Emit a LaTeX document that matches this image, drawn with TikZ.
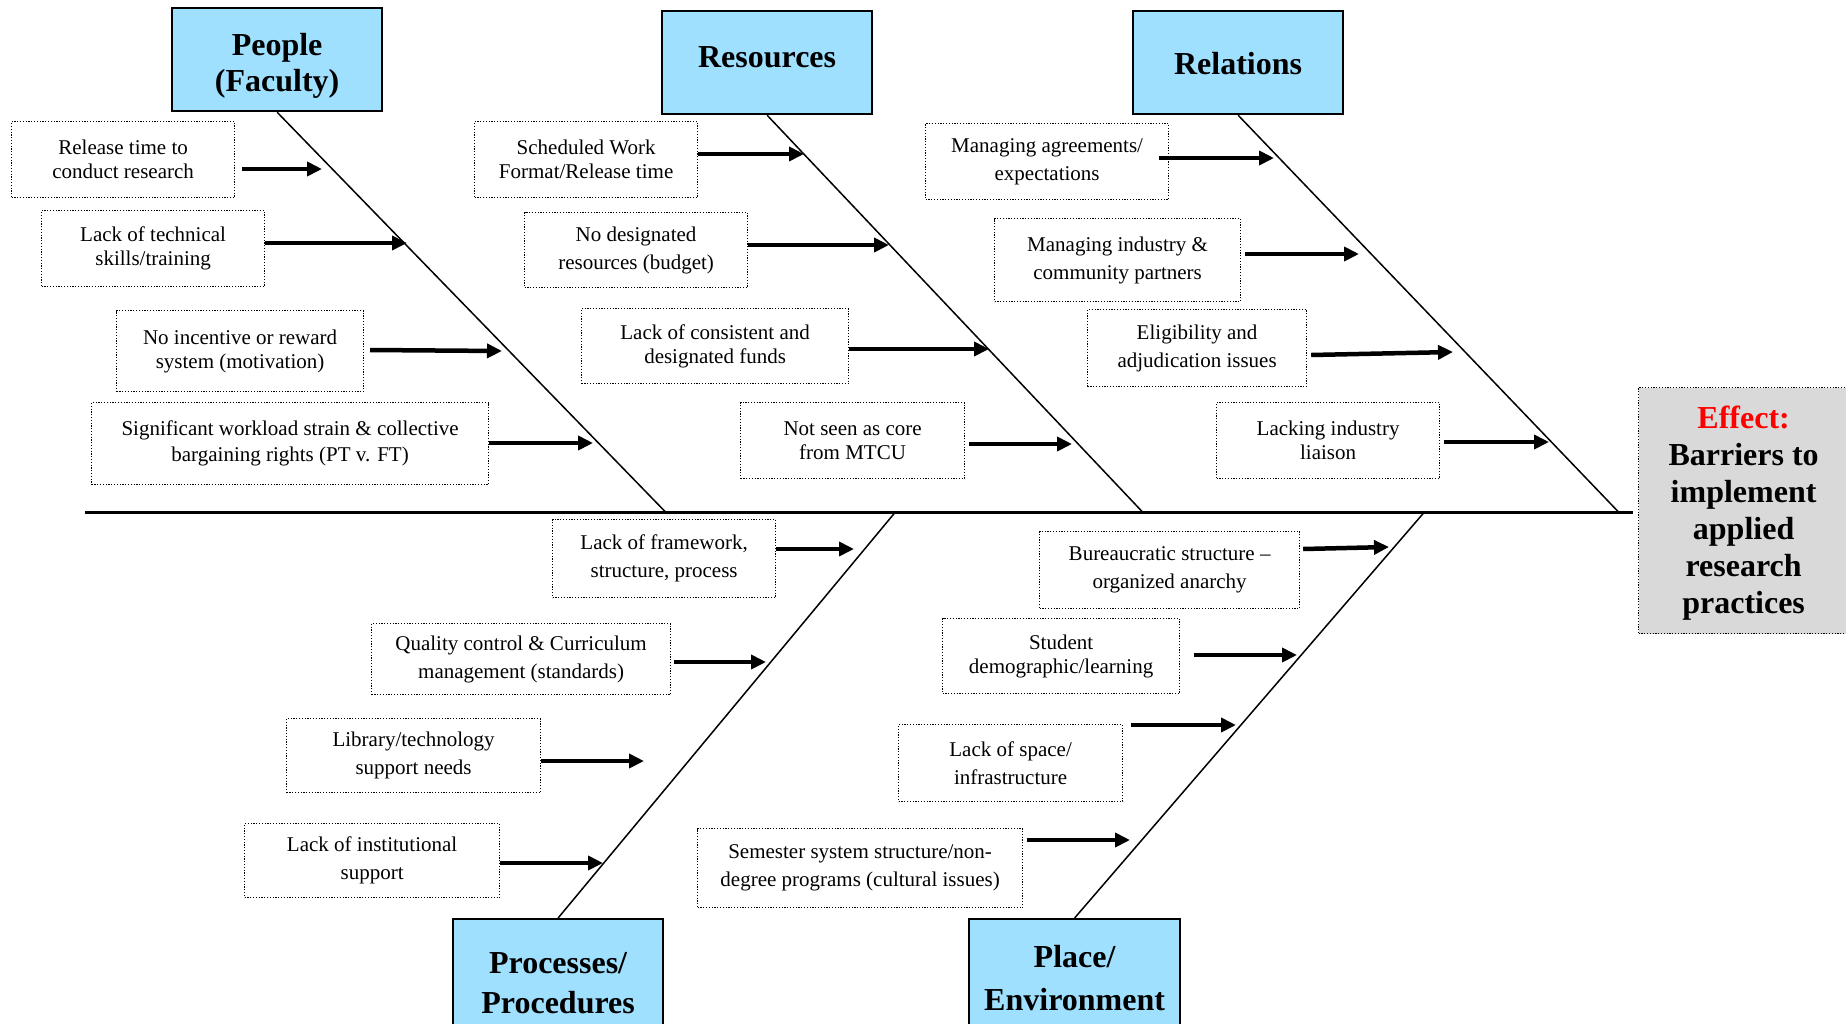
\documentclass[tikz,border=0pt]{standalone}
\usepackage{fontspec}
\setmainfont{Liberation Serif}
\usetikzlibrary{arrows.meta}
\definecolor{hdrblue}{RGB}{160,224,255}
\definecolor{effgray}{RGB}{217,217,217}

\begin{document}
\begin{tikzpicture}[x=1pt,y=-1pt,
  cause/.style={draw, line width=1.2pt, dash pattern=on 1.2pt off 1.6pt,
    inner sep=0pt, align=center, anchor=north west,
    font=\fontsize{21}{24}\selectfont},
  loose/.style={font=\fontsize{21}{28}\selectfont},
  header/.style={draw, line width=2.2pt, fill=hdrblue, inner sep=0pt,
    align=center, anchor=north west, minimum width=210pt,
    font=\fontsize{32}{36}\selectfont\bfseries},
  htext/.style={inner sep=0pt, align=center,
    font=\fontsize{32}{36}\selectfont\bfseries},
  effect/.style={draw, line width=1.2pt, dash pattern=on 1.2pt off 1.6pt,
    fill=effgray, inner sep=0pt, anchor=north west},
  efftext/.style={inner sep=0pt, align=center,
    font=\fontsize{32}{37}\selectfont\bfseries},
  bone/.style={line width=1.5pt},
  spine/.style={line width=2.6pt},
  push/.style={line width=4.5pt, -{Triangle[length=15pt,width=14pt]}},
]
\useasboundingbox (0,0) rectangle (1846,1023);
\clip (0,0) rectangle (1846,1023);

% ---- category headers ----
\node[header, minimum height=103pt] (hP)  at (171,7)  {};
\node[htext] (tP) at ([yshift=-6pt]hP.center) {People\\(Faculty)};
\node[header, minimum height=103pt] (hR)  at (661,10) {};
\node[htext] (tR) at ([yshift=5pt]hR.center) {Resources};
\node[header, minimum height=103pt] (hRe) at (1132,10) {};
\node[htext] (tRe) at ([yshift=-1pt]hRe.center) {Relations};
\node[header, minimum height=128pt, font=\fontsize{32}{40}\selectfont\bfseries]
  (hPr) at (452,918) {Processes/\\Procedures};
\node[header, minimum width=211pt, minimum height=118pt, font=\fontsize{32}{43}\selectfont\bfseries]
  (hPl) at (968,918) {Place/\\Environment};

% ---- effect ----
\node[effect, minimum width=214pt, minimum height=246pt] (eff) at (1638,387) {};
\node[efftext] (teff) at ([xshift=-2pt,yshift=-3pt]eff.center)
  {{\color{red}Effect:}\\Barriers to\\implement\\applied\\research\\practices};

% ---- spine and bones ----
\coordinate (tail) at (85,512.5);
\coordinate (head) at (1633,512.5);
\coordinate (jP)  at (666,512.5);
\coordinate (jR)  at (1143,512.5);
\coordinate (jRe) at (1619,512.5);
\coordinate (jPr) at (895,512.5);
\coordinate (jPl) at (1424,512.5);
\draw[spine] (tail) -- (head);
\draw[bone] (hP.south)  -- (jP);
\draw[bone] (hR.south)  -- (jR);
\draw[bone] (hRe.south) -- (jRe);
\draw[bone] (hPr.north) -- (jPr);
\draw[bone] (hPl.north) -- (jPl);

% ---- People ----
\node[cause, minimum width=223pt, minimum height=76pt] (c1) at (11,121)
  {Release time to\\conduct research};
\node[cause, minimum width=223pt, minimum height=76pt] (c2) at (41,210)
  {Lack of technical\\skills/training};
\node[cause, minimum width=247pt, minimum height=81pt] (c3) at (116,310)
  {No incentive or reward\\system (motivation)};
\node[cause, minimum width=397pt, minimum height=82pt, font=\fontsize{21}{26}\selectfont] (c4) at (91,402)
  {Significant workload strain \& collective\\bargaining rights (PT v. FT)};

% ---- Resources ----
\node[cause, minimum width=223pt, minimum height=76pt] (c5) at (474,121)
  {Scheduled Work\\Format/Release time};
\node[cause, loose, minimum width=223pt, minimum height=75pt] (c6) at (524,212)
  {No designated\\resources (budget)};
\node[cause, minimum width=267pt, minimum height=75pt] (c7) at (581,308)
  {Lack of consistent and\\designated funds};
\node[cause, minimum width=224pt, minimum height=76pt] (c8) at (740,402)
  {Not seen as core\\from MTCU};

% ---- Relations ----
\node[cause, loose, minimum width=243pt, minimum height=76pt] (c9) at (925,123)
  {Managing agreements/\\expectations};
\node[cause, loose, minimum width=246pt, minimum height=83pt] (c10) at (994,218)
  {Managing industry \&\\community partners};
\node[cause, loose, minimum width=219pt, minimum height=77pt] (c11) at (1087,309)
  {Eligibility and\\adjudication issues};
\node[cause, minimum width=223pt, minimum height=76pt] (c12) at (1216,402)
  {Lacking industry\\liaison};

% ---- Processes / Procedures ----
\node[cause, loose, minimum width=223pt, minimum height=78pt] (c13) at (552,519)
  {Lack of framework,\\structure, process};
\node[cause, loose, minimum width=299pt, minimum height=71pt] (c14) at (371,623)
  {Quality control \& Curriculum\\management (standards)};
\node[cause, loose, minimum width=254pt, minimum height=74pt] (c15) at (286,718)
  {Library/technology\\support needs};
\node[cause, loose, minimum width=255pt, minimum height=74pt] (c16) at (244,823)
  {Lack of institutional\\support};

% ---- Place / Environment ----
\node[cause, loose, minimum width=260pt, minimum height=77pt] (c17) at (1039,531)
  {Bureaucratic structure --\\organized anarchy};
\node[cause, minimum width=237pt, minimum height=75pt] (c18) at (942,618)
  {Student\\demographic/learning};
\node[cause, loose, minimum width=224pt, minimum height=77pt] (c19) at (898,724)
  {Lack of space/\\infrastructure};
\node[cause, loose, minimum width=325pt, minimum height=79pt] (c20) at (697,828)
  {Semester system structure/non-\\degree programs (cultural issues)};

% ---- arrow tips on the bones ----
\coordinate (a1)  at (322,169);
\coordinate (a2)  at (407,243);
\coordinate (a3)  at (502,351);
\coordinate (a4)  at (593,443);
\coordinate (a5)  at (804,154);
\coordinate (a6)  at (889,245);
\coordinate (a7)  at (989,349);
\coordinate (a8)  at (1072,444);
\coordinate (a9)  at (1274,158);
\coordinate (a10) at (1359,254);
\coordinate (a11) at (1453,352);
\coordinate (a12) at (1549,442);
\coordinate (a13) at (854,549);
\coordinate (a14) at (766,662);
\coordinate (a15) at (644,761);
\coordinate (a16) at (603,863);
\coordinate (a17) at (1389,547);
\coordinate (a18) at (1297,655);
\coordinate (a19) at (1236,725);
\coordinate (a20) at (1130,840);

% ---- cause arrows ----
\draw[push] ([xshift=7pt]c1.east |- a1) -- (a1);
\draw[push] (c2.east |- a2) -- (a2);
\draw[push] ([xshift=6pt,yshift=1pt]c3.east |- a3) -- (a3);
\draw[push] (c4.east |- a4) -- (a4);
\draw[push] (c5.east |- a5) -- (a5);
\draw[push] (c6.east |- a6) -- (a6);
\draw[push] (c7.east |- a7) -- (a7);
\draw[push] ([xshift=4pt]c8.east |- a8) -- (a8);
\draw[push] ([xshift=-10pt]c9.east |- a9) -- (a9);
\draw[push] ([xshift=4pt]c10.east |- a10) -- (a10);
\draw[push] ([xshift=4pt,yshift=-3pt]c11.east |- a11) -- (a11);
\draw[push] ([xshift=4pt]c12.east |- a12) -- (a12);
\draw[push] (c13.east |- a13) -- (a13);
\draw[push] ([xshift=3pt]c14.east |- a14) -- (a14);
\draw[push] (c15.east |- a15) -- (a15);
\draw[push] (c16.east |- a16) -- (a16);
\draw[push] ([xshift=3pt,yshift=-2pt]c17.east |- a17) -- (a17);
\draw[push] ([xshift=14pt]c18.east |- a18) -- (a18);
\draw[push] ([xshift=8pt]c19.east |- a19) -- (a19);
\draw[push] ([xshift=4pt]c20.east |- a20) -- (a20);
\end{tikzpicture}
\end{document}
